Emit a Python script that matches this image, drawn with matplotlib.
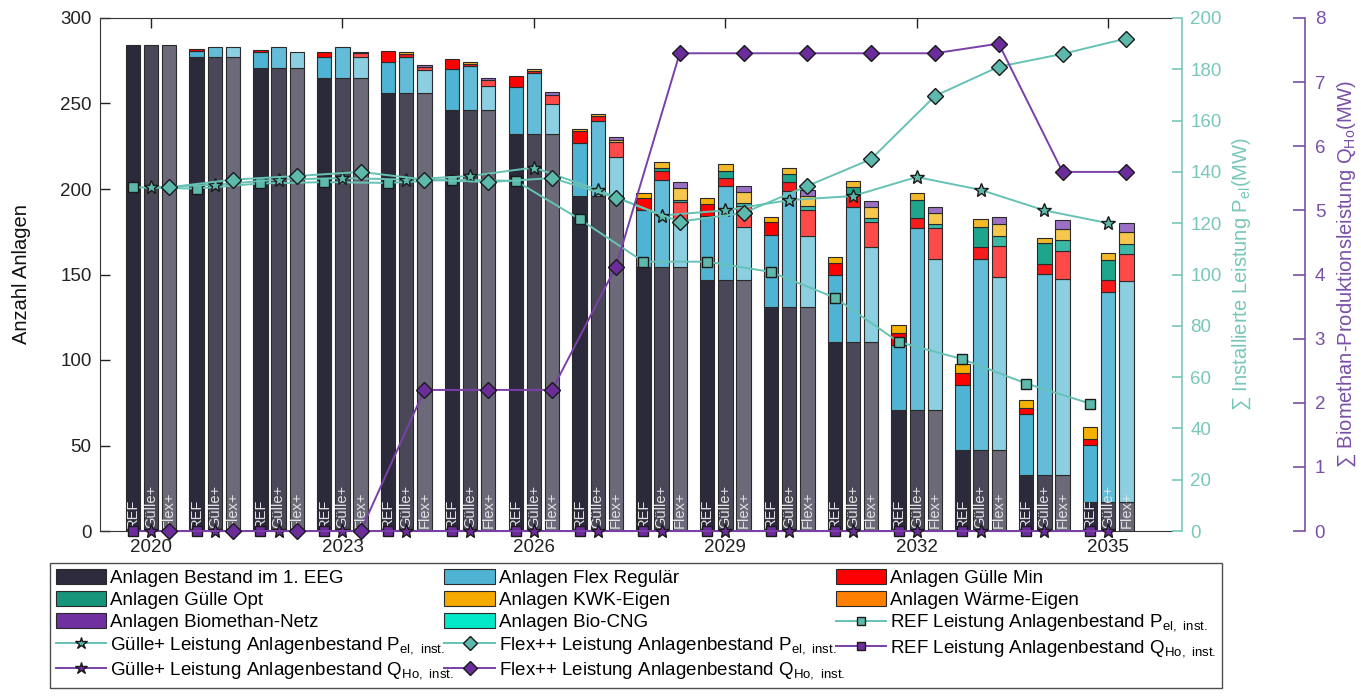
import numpy as np
import matplotlib
matplotlib.use("Agg")
import matplotlib.pyplot as plt
from matplotlib.patches import Patch
from matplotlib.lines import Line2D

plt.rcParams["font.family"] = ["Liberation Sans", "DejaVu Sans"]
plt.rcParams["mathtext.fontset"] = "custom"
plt.rcParams["mathtext.rm"] = "Liberation Sans"

years = np.arange(2020, 2036)
scenarios = ["REF", "Gülle+", "Flex+"]

# Anzahl Anlagen je Kategorie (gestapelt)
bestand = [284, 277, 271, 265, 256, 246, 232, 196, 154.5, 147, 131, 110.5, 71, 47.4, 32.7, 17]

ref_flex = [0, 3.5, 9, 12, 18, 24, 27.5, 31, 33.5, 37, 42, 39.5, 38, 38, 35.7, 33.3]
ref_min = [0, 1.5, 1.2, 3, 6.5, 6, 6.5, 7, 6.5, 7.5, 7.5, 7, 7, 7, 3.5, 3.5]
ref_opt = [0] * 16
ref_kwk = [0, 0, 0, 0, 0, 0, 0, 1, 3, 3, 3, 3, 4.5, 5, 4.7, 7]
ref_bio = [0] * 16

gue_flex = [0, 6, 12, 18, 21, 26, 36, 44, 50.5, 54.7, 68, 79, 106, 111.6, 117.6, 123]
gue_min = [0, 0, 0, 0, 2, 1, 1, 2.5, 5.3, 5, 5, 7, 6, 7, 6, 6.7]
gue_opt = [0, 0, 0, 0, 0, 0, 0, 0, 1.7, 4, 4.5, 4.5, 10.5, 12, 12, 11.7]
gue_kwk = [0, 0, 0, 0, 1, 1, 1, 1.5, 3.8, 4, 4, 3.5, 4, 4.5, 3, 4]
gue_bio = [0] * 16

flx_flex = [0, 6, 9, 12, 13.6, 14, 18, 22.7, 27.5, 31, 41.5, 55.5, 88, 101, 114.7, 129]
flx_min = [0, 0, 0, 2.5, 2, 3.5, 5, 8.5, 10.5, 12, 15, 14.5, 18, 18, 16.4, 16]
flx_opt = [0, 0, 0, 0, 0, 0, 0, 0, 1.2, 2, 2.5, 2.5, 2.5, 6, 6.4, 6]
flx_kwk = [0, 0, 0, 0, 0, 0, 0, 1.5, 7, 6.5, 6, 6.5, 6.5, 7, 6.4, 7]
flx_bio = [0, 0, 0, 0.5, 1, 1.5, 1.5, 1.5, 3.5, 3.5, 3.5, 3.5, 3.5, 4.5, 5.5, 5]

# Leistung (MW)
ref_pel = [134, 133.5, 135.5, 136, 135.7, 137, 136.5, 121.6, 105, 105, 101, 91, 73.7, 67, 57.5, 49.7]
gue_pel = [134, 135, 137, 137.6, 137, 138.4, 141.7, 133, 123, 125, 129, 130.6, 138, 133, 125, 120]
flx_pel = [134, 137, 138.4, 140, 137, 136, 137.6, 130, 120.6, 124, 134.5, 145, 169.6, 181, 186, 192]
ref_q = [0] * 16
gue_q = [0] * 16
flx_q = [0, 0, 0, 0, 2.2, 2.2, 2.2, 4.12, 7.45, 7.45, 7.45, 7.45, 7.45, 7.6, 5.6, 5.6]

# Farben
C_BEST = ["#2b2a3b", "#4a4858", "#6c6a79"]
C_FLEX = ["#4fb3d3", "#63bcd8", "#8bcfe1"]
C_MIN = ["#ff0000", "#f71b1b", "#ff4a4a"]
C_OPT = ["#17957a", "#1fa58c", "#3cb8a6"]
C_KWK = ["#f5b000", "#f2b92a", "#f5c84d"]
C_BIO = ["#7030a0", "#8050b0", "#9b70c4"]
TEAL = "#66c2b4"
TEAL_F = "#5cb9ac"
TEAL_AX = "#79c7ba"
PURP = "#7a3fa8"
PURP_F = "#6b2d9b"
PURP_AX = "#7a4fa7"

OFF = [-0.285, 0.0, 0.285]
W = 0.225

fig = plt.figure(figsize=(13.61, 6.98), dpi=100)
ax = fig.add_axes([100 / 1361, 1 - 531 / 698, (1172 - 100) / 1361, (531 - 18) / 698])

stacks = [
    [bestand, ref_flex, ref_min, ref_opt, ref_kwk, ref_bio],
    [bestand, gue_flex, gue_min, gue_opt, gue_kwk, gue_bio],
    [bestand, flx_flex, flx_min, flx_opt, flx_kwk, flx_bio],
]
cols = [C_BEST, C_FLEX, C_MIN, C_OPT, C_KWK, C_BIO]
for si, comps in enumerate(stacks):
    x = years + OFF[si]
    bottom = np.zeros(len(years))
    for ci, vals in enumerate(comps):
        v = np.asarray(vals, dtype=float)
        m = v > 0
        ax.bar(x[m], v[m], W, bottom=bottom[m], color=cols[ci][si],
               edgecolor="#2a2a2a", linewidth=0.8, zorder=2)
        bottom += v
    for xi in x:
        ax.text(xi, 1.5, scenarios[si], rotation=90, ha="center", va="bottom",
                color="#e2e2e2", fontsize=10.5, zorder=3)

ax.set_xlim(2019.2, 2036.0)
ax.set_ylim(0, 300)
ax.set_xticks(np.arange(2020, 2036, 3))
ax.set_yticks(np.arange(0, 301, 50))
ax.tick_params(axis="both", direction="in", labelsize=13.5, length=7, width=1, colors="#222222")
ax.tick_params(axis="x", top=True, pad=6)
ax.tick_params(axis="y", pad=6)
ax.spines["right"].set_visible(False)
for s in ("top", "bottom", "left"):
    ax.spines[s].set_color("#333333")
fig.text(22 / 1361, 1 - 274 / 698, "Anzahl Anlagen", rotation=90, ha="center", va="center",
         fontsize=14.5, color="#111111")

# Leistung P_el
ax2 = ax.twinx()
ax2.set_ylim(0, 200)
ax2.set_yticks(np.arange(0, 201, 20))
for s in ("top", "bottom", "left"):
    ax2.spines[s].set_visible(False)
ax2.spines["right"].set_position(("axes", (1182 - 100) / (1172 - 100)))
ax2.spines["right"].set_color(TEAL_AX)
ax2.spines["right"].set_linewidth(1.2)
ax2.tick_params(axis="y", direction="in", length=7, width=1.2, colors=TEAL_AX, labelsize=13.5, pad=6)
kw = dict(color=TEAL, lw=1.4, markeredgecolor="#1a1a1a", markeredgewidth=1.0, clip_on=False, zorder=5)
ax2.plot(years + OFF[0], ref_pel, marker="s", markersize=7, markerfacecolor=TEAL_F, **kw)
ax2.plot(years + OFF[1], gue_pel, marker="*", markersize=10, markerfacecolor=TEAL_F, **kw)
ax2.plot(years + OFF[2], flx_pel, marker="D", markersize=8, markerfacecolor=TEAL_F, **kw)
fig.text(1242 / 1361, 1 - 274 / 698, "∑ Installierte Leistung P$_{\\mathregular{el}}$(MW)",
         rotation=90, ha="center", va="center", fontsize=14.5, color=TEAL_AX)

# Biomethan Q_Ho
ax3 = ax.twinx()
ax3.set_ylim(0, 8)
ax3.set_yticks(np.arange(0, 9, 1))
for s in ("top", "bottom", "left"):
    ax3.spines[s].set_visible(False)
ax3.spines["right"].set_position(("axes", (1305 - 100) / (1172 - 100)))
ax3.spines["right"].set_color(PURP_AX)
ax3.spines["right"].set_linewidth(1.2)
ax3.tick_params(axis="y", direction="in", length=9, width=1.2, colors=PURP_AX, labelsize=13.5, pad=7)
kw = dict(color=PURP, lw=1.4, markeredgecolor="#1a1a1a", markeredgewidth=1.0, clip_on=False, zorder=6)
ax3.plot(years + OFF[0], ref_q, marker="s", markersize=7, markerfacecolor=PURP_F, **kw)
ax3.plot(years + OFF[1], gue_q, marker="*", markersize=10, markerfacecolor=PURP_F, **kw)
ax3.plot(years + OFF[2], flx_q, marker="D", markersize=8, markerfacecolor=PURP_F, **kw)
fig.text(1347 / 1361, 1 - 274 / 698, "∑ Biomethan-Produktionsleistung Q$_{\\mathregular{Ho}}$(MW)",
         rotation=90, ha="center", va="center", fontsize=14.5, color=PURP_AX)

# Legende (spaltenweise gefüllt)
def patch(c):
    return Patch(facecolor=c, edgecolor="#2a2a2a", linewidth=0.8)

def line(c, m, ms, fc):
    return Line2D([], [], color=c, lw=1.4, marker=m, markersize=ms, markerfacecolor=fc,
                  markeredgecolor="#1a1a1a", markeredgewidth=1.0)

handles = [
    patch("#2d2b3d"), patch("#17957a"), patch("#7030a0"),
    line(TEAL, "*", 9, TEAL_F), line(PURP, "*", 9, PURP_F),
    patch("#4fb3d3"), patch("#f5a800"), patch("#00e8c6"),
    line(TEAL, "D", 7, TEAL_F), line(PURP, "D", 7, PURP_F),
    patch("#ff0000"), patch("#ff8000"),
    line(TEAL, "s", 6, TEAL_F), line(PURP, "s", 6, PURP_F),
]
labels = [
    "Anlagen Bestand im 1. EEG", "Anlagen Gülle Opt", "Anlagen Biomethan-Netz",
    "Gülle+ Leistung Anlagenbestand P$_{\\mathregular{el,\\ inst.}}$",
    "Gülle+ Leistung Anlagenbestand Q$_{\\mathregular{Ho,\\ inst.}}$",
    "Anlagen Flex Regulär", "Anlagen KWK-Eigen", "Anlagen Bio-CNG",
    "Flex++ Leistung Anlagenbestand P$_{\\mathregular{el,\\ inst.}}$",
    "Flex++ Leistung Anlagenbestand Q$_{\\mathregular{Ho,\\ inst.}}$",
    "Anlagen Gülle Min", "Anlagen Wärme-Eigen",
    "REF Leistung Anlagenbestand P$_{\\mathregular{el,\\ inst.}}$",
    "REF Leistung Anlagenbestand Q$_{\\mathregular{Ho,\\ inst.}}$",
]
leg = fig.legend(handles, labels, loc="upper left",
                 bbox_to_anchor=(50 / 1361, 1 - 563 / 698, (1222 - 50) / 1361, 0.0),
                 mode="expand", ncol=3, frameon=True, fancybox=False,
                 edgecolor="#222222", borderaxespad=0, handlelength=2.7, handleheight=0.85,
                 handletextpad=0.2, labelspacing=0.23, borderpad=0.3, columnspacing=0.3,
                 prop={"family": "Liberation Sans", "size": 13.5})
leg.get_frame().set_linewidth(1.0)

fig.savefig("out.png", dpi=100)
